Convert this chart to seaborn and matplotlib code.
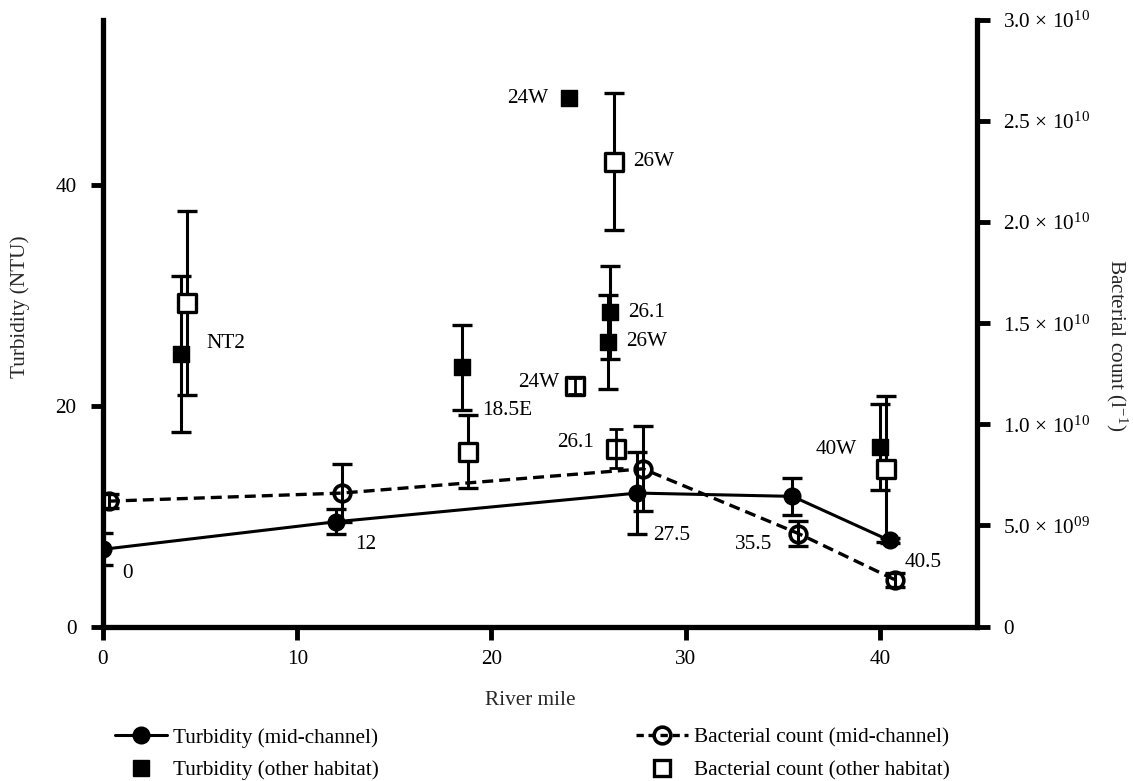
import matplotlib
matplotlib.use("Agg")
import matplotlib.pyplot as plt
from matplotlib.lines import Line2D
from matplotlib.ticker import FixedLocator, FixedFormatter
import seaborn as sns
import pandas as pd

# mid-channel stations
mile_mid = [0, 12, 27.5, 35.5, 40.5]
mid_labels = ['0', '12', '27.5', '35.5', '40.5']
turb_mid = [7.0, 9.5, 12.1, 11.8, 7.8]
turb_mid_err = [1.45, 1.15, 3.75, 1.7, 0.25]
bact_mid = [6.2e9, 6.6e9, 7.8e9, 4.6e9, 2.3e9]
bact_mid_err = [0.35e9, 1.45e9, 2.1e9, 0.6e9, 0.35e9]

# other habitats
other_labels = ['NT2', '18.5E', '24W', '26.1', '26W', '40W']
mile_other = [4.0, 18.5, 24.0, 26.1, 26.0, 40.0]
turb_other = [24.7, 23.5, 47.9, 28.5, 25.8, 16.3]
turb_other_err = [7.1, 3.85, 0, 4.2, 4.3, 3.9]
bact_other = [1.6e10, 8.65e9, 1.19e10, 8.8e9, 2.30e10, 7.8e9]
bact_other_err = [4.55e9, 1.8e9, 0.4e9, 0.95e9, 3.4e9, 3.6e9]

x_ticks = [0, 10, 20, 30, 40]
turb_ticks = [0, 20, 40]
bact_ticks = [0, 5e9, 1e10, 1.5e10, 2e10, 2.5e10, 3e10]
bact_tick_labels = ['0', '5.0 × 10$^{09}$', '1.0 × 10$^{10}$', '1.5 × 10$^{10}$',
                    '2.0 × 10$^{10}$', '2.5 × 10$^{10}$', '3.0 × 10$^{10}$']

BACT_SHIFT = 0.3  # bacterial markers drawn a bit right of the station
FS = 15.3

sns.set_style("ticks", {"axes.edgecolor": "black", "text.color": "black",
                        "xtick.color": "black", "ytick.color": "black"})
plt.rcParams['font.family'] = ['Liberation Serif', 'DejaVu Serif']
plt.rcParams['mathtext.fontset'] = 'custom'
plt.rcParams['mathtext.rm'] = 'Liberation Serif'
plt.rcParams['mathtext.it'] = 'Liberation Serif:italic'
plt.rcParams['font.size'] = FS

mid = pd.DataFrame({'mile': mile_mid, 'turb': turb_mid, 'turb_err': turb_mid_err,
                    'bact': bact_mid, 'bact_err': bact_mid_err, 'label': mid_labels})
mid['mile_b'] = mid['mile'] + BACT_SHIFT
oth = pd.DataFrame({'mile': mile_other, 'turb': turb_other, 'turb_err': turb_other_err,
                    'bact': bact_other, 'bact_err': bact_other_err, 'label': other_labels})
oth['mile_b'] = oth['mile'] + BACT_SHIFT

fig = plt.figure(figsize=(11.33, 7.81), dpi=100)
ax = fig.add_axes([103 / 1133, 1 - 626.5 / 781, 874 / 1133, 606.5 / 781])
ax2 = ax.twinx()

ebkw = dict(fmt='none', ecolor='black', elinewidth=2.2, capsize=7.5, capthick=2.4)

# turbidity (left axis)
ax.errorbar(mid['mile'], mid['turb'], yerr=mid['turb_err'], zorder=2, **ebkw)
has_err = oth['turb_err'] > 0
ax.errorbar(oth.loc[has_err, 'mile'], oth.loc[has_err, 'turb'],
            yerr=oth.loc[has_err, 'turb_err'], zorder=2, **ebkw)
sns.lineplot(data=mid, x='mile', y='turb', ax=ax, color='black', linewidth=2.2,
             marker='o', markersize=12, markeredgewidth=1, markerfacecolor='black',
             markeredgecolor='black', sort=False, zorder=3)
sns.scatterplot(data=oth, x='mile', y='turb', ax=ax, marker='s', s=144, color='black',
                edgecolor='black', linewidth=1, zorder=4)

# bacterial count (right axis)
big = oth['bact_err'] > 1e9
ax2.errorbar(oth.loc[big, 'mile_b'], oth.loc[big, 'bact'], yerr=oth.loc[big, 'bact_err'],
             zorder=2, **ebkw)
ax2.errorbar(mid['mile_b'], mid['bact'], yerr=mid['bact_err'], zorder=4, **ebkw)
sns.lineplot(data=mid, x='mile_b', y='bact', ax=ax2, color='black', linewidth=2.4,
             linestyle=(0, (3.3, 1.8)), marker='o', markersize=12,
             markerfacecolor='none', markeredgecolor='black', markeredgewidth=2.6,
             sort=False, zorder=3)
sns.scatterplot(data=oth, x='mile_b', y='bact', ax=ax2, marker='s', s=160, color='white',
                edgecolor='black', linewidth=2.4, zorder=3)
ax2.errorbar(oth.loc[~big, 'mile_b'], oth.loc[~big, 'bact'], yerr=oth.loc[~big, 'bact_err'],
             zorder=5, fmt='none', ecolor='black', elinewidth=2, capsize=5, capthick=2)

# station labels
def put(axis, x, y, text, dx, dy, ha):
    axis.annotate(text, (x, y), xytext=(dx, dy), textcoords='offset pixels',
                  ha=ha, va='center', fontsize=FS)

mid_off = {'0': (19, -24, 'left'), '12': (19, -23, 'left'), '27.5': (16, -42, 'left'),
           '35.5': (-20, -48, 'right'), '40.5': (15, -22, 'left')}
for _, r in mid.iterrows():
    dx, dy, ha = mid_off[r['label']]
    put(ax, r['mile'], r['turb'], r['label'], dx, dy, ha)

turb_off = {'NT2': (26, 11, 'left'), '18.5E': (20, -43, 'left'), '24W': (-21, 0, 'right'),
            '26.1': (18, 0, 'left'), '26W': (18, 0, 'left'), '40W': (-23, -3, 'right')}
for _, r in oth.iterrows():
    dx, dy, ha = turb_off[r['label']]
    put(ax, r['mile'], r['turb'], r['label'], dx, dy, ha)

bact_off = {'26W': (19, 0, 'left'), '24W': (-16, 3, 'right'), '26.1': (-22, 6, 'right')}
for _, r in oth.iterrows():
    if r['label'] in bact_off:
        dx, dy, ha = bact_off[r['label']]
        put(ax2, r['mile_b'], r['bact'], r['label'], dx, dy, ha)

# axes
ax.set_xlim(0, 45)
ax.set_ylim(0, 55)
ax2.set_ylim(0, 3e10)
ax.set_xticks(x_ticks)
ax.set_yticks(turb_ticks)
ax2.yaxis.set_major_locator(FixedLocator(bact_ticks))
ax2.yaxis.set_major_formatter(FixedFormatter(bact_tick_labels))

for a in (ax, ax2):
    for s in a.spines.values():
        s.set_visible(False)
    a.tick_params(direction='out', length=9, width=3.5, labelsize=FS, pad=8)
ax.spines['left'].set_visible(True)
ax.spines['bottom'].set_visible(True)
ax2.spines['right'].set_visible(True)
for s in (ax.spines['left'], ax.spines['bottom'], ax2.spines['right']):
    s.set_linewidth(3.8)
ax.tick_params(axis='y', pad=10)
ax2.tick_params(axis='y', pad=10)

ax.set_xlabel('River mile', fontsize=FS, va='center')
ax.xaxis.set_label_coords(0.4886, -0.122)
ax.set_ylabel('Turbidity (NTU)', fontsize=FS, va='center')
ax.yaxis.set_label_coords(-0.095, 0.528)
ax2.set_ylabel('Bacterial count (l$^{-1}$)', fontsize=FS, rotation=270, va='center')
ax2.yaxis.set_label_coords(1.16, 0.464)

# legend
h_tm = Line2D([], [], color='black', lw=2.2, marker='o', markersize=12)
h_to = Line2D([], [], color='black', lw=0, marker='s', markersize=12)
h_bm = Line2D([], [], color='black', lw=2.4, linestyle=(0, (2.2, 1.4)), marker='o',
              markersize=12, markerfacecolor='none', markeredgewidth=2.6)
h_bo = Line2D([], [], color='black', lw=0, marker='s', markersize=12,
              markerfacecolor='white', markeredgewidth=2.4)
lkw = dict(loc='upper left', frameon=False, fontsize=FS, borderpad=0, borderaxespad=0,
           handlelength=2.45, handletextpad=0.28, labelspacing=0.58)
fig.legend([h_tm, h_to], ['Turbidity (mid-channel)', 'Turbidity (other habitat)'],
           bbox_to_anchor=(115 / 1133, 1 - 728 / 781), **lkw)
fig.legend([h_bm, h_bo], ['Bacterial count (mid-channel)', 'Bacterial count (other habitat)'],
           bbox_to_anchor=(636 / 1133, 1 - 728 / 781), **lkw)

fig.savefig('out.png', dpi=100)
